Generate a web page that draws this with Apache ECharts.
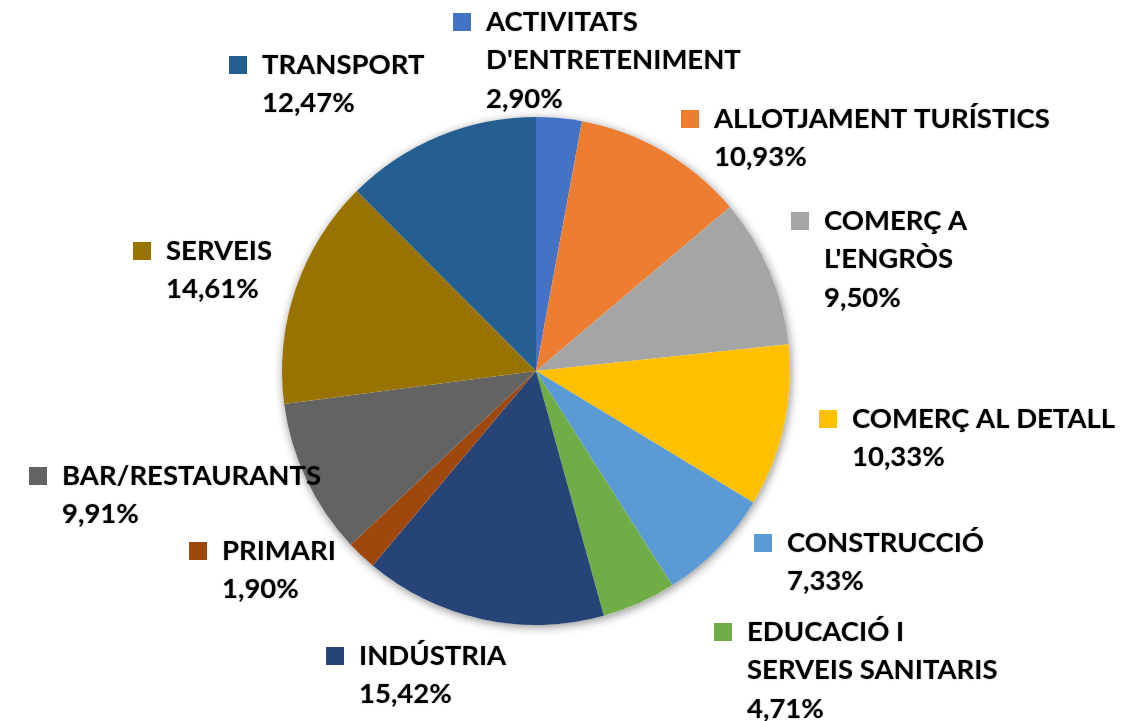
<!DOCTYPE html>
<html>
<head>
<meta charset="utf-8">
<script src="https://cdn.jsdelivr.net/npm/echarts@6/dist/echarts.min.js"></script>
<style>
  html, body { margin: 0; padding: 0; background: #fff; }
  #chart { width: 1137px; height: 721px; }
</style>
</head>
<body>
<div id="chart"></div>
<script>
const categories = [
  "ACTIVITATS\nD'ENTRETENIMENT",
  'ALLOTJAMENT TURÍSTICS',
  "COMERÇ A\nL'ENGRÒS",
  'COMERÇ AL DETALL',
  'CONSTRUCCIÓ',
  'EDUCACIÓ I\nSERVEIS SANITARIS',
  'INDÚSTRIA',
  'PRIMARI',
  'BAR/RESTAURANTS',
  'SERVEIS',
  'TRANSPORT'
]
const shares = [2.90, 10.93, 9.50, 10.33, 7.33, 4.71, 15.42, 1.90, 9.91, 14.61, 12.47]
const colors = [
  '#4472C4', '#ED7D31', '#A5A5A5', '#FFC000', '#5B9BD5', '#70AD47',
  '#264478', '#9E480E', '#636363', '#997300', '#255E91'
]

// where each label sits: left edge of the colour square, centre of first line
const labelSpots = [
  [453, 22], [681, 119], [791, 221], [819, 419], [754, 543], [714, 632],
  [326, 656], [189, 551], [29, 476], [133, 251], [229, 65]
]
const LINE = 38.5

const chart = echarts.init(document.getElementById('chart'))

const fmtPct = v => v.toFixed(2).replace('.', ',') + '%'

chart.setOption({
  animation: false,
  textStyle: { fontFamily: 'Lato' },
  series: [
    {
      // soft shadow behind the whole pie
      type: 'pie',
      silent: true,
      center: [536, 371],
      radius: 254,
      z: 1,
      label: { show: false },
      itemStyle: {
        color: '#fff',
        shadowBlur: 10,
        shadowOffsetX: 1,
        shadowOffsetY: 2,
        shadowColor: 'rgba(0,0,0,0.45)'
      },
      data: [1]
    },
    {
      type: 'pie',
      center: [536, 371],
      radius: 254,
      z: 2,
      startAngle: 90,
      clockwise: true,
      avoidLabelOverlap: false,
      labelLine: { show: false },
      data: categories.map((name, i) => ({
        name,
        value: shares[i],
        itemStyle: { color: colors[i] },
        label: {
          rich: {
            sq: { width: 18, height: 18, backgroundColor: colors[i] }
          }
        }
      })),
      label: {
        show: true,
        position: 'outside',
        formatter: p => {
          const lines = p.name.split('\n').concat(fmtPct(p.value))
          return lines.map((l, k) => (k === 0 ? '{sq|}{gap|}' : '{ind|}') + '{t|' + l + '}').join('\n')
        },
        rich: {
          gap: { width: 15 },
          ind: { width: 33 },
          t: {
            fontFamily: 'Lato',
            fontWeight: 'bold',
            fontSize: 27.5,
            color: '#000',
            lineHeight: LINE,
            textShadowColor: 'rgba(0,0,0,0.3)',
            textShadowBlur: 2
          }
        }
      },
      labelLayout: p => {
        const s = labelSpots[p.dataIndex]
        return {
          x: s[0],
          y: s[1] - LINE / 2,
          align: 'left',
          verticalAlign: 'top',
          moveOverlap: false
        }
      }
    }
  ]
})
</script>
</body>
</html>
